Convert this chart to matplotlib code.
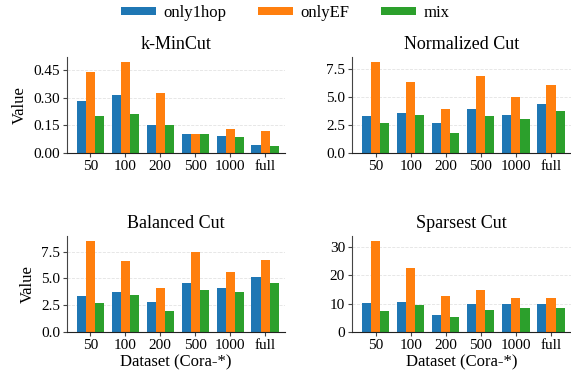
import numpy as np
import matplotlib.pyplot as plt

plt.rcParams['font.family'] = ['Liberation Serif', 'DejaVu Serif']

datasets = ["50", "100", "200", "500", "1000", "full"]
methods = ["only1hop", "onlyEF", "mix"]
colors = ["#1f77b4", "#ff7f0e", "#2ca02c"]

# metric values per method, one entry per dataset
kmincut_1hop = [0.282, 0.312, 0.152, 0.104, 0.093, 0.045]
kmincut_ef = [0.436, 0.495, 0.325, 0.104, 0.130, 0.120]
kmincut_mix = [0.200, 0.211, 0.152, 0.104, 0.084, 0.039]

ncut_1hop = [3.32, 3.59, 2.67, 3.94, 3.41, 4.39]
ncut_ef = [8.21, 6.34, 3.94, 6.88, 5.01, 6.08]
ncut_mix = [2.67, 3.41, 1.81, 3.32, 3.05, 3.79]

bcut_1hop = [3.35, 3.72, 2.80, 4.55, 4.09, 5.10]
bcut_ef = [8.52, 6.58, 4.09, 7.50, 5.56, 6.67]
bcut_mix = [2.71, 3.44, 1.97, 3.90, 3.72, 4.55]

scut_1hop = [10.3, 10.6, 6.1, 9.9, 9.9, 9.9]
scut_ef = [32.3, 22.5, 12.7, 14.8, 12.0, 12.0]
scut_mix = [7.5, 9.6, 5.4, 7.8, 8.5, 8.5]

panels = [
    ("k-MinCut", [kmincut_1hop, kmincut_ef, kmincut_mix], [0, 0.15, 0.30, 0.45], "{:.2f}"),
    ("Normalized Cut", [ncut_1hop, ncut_ef, ncut_mix], [0, 2.5, 5.0, 7.5], "{:.1f}"),
    ("Balanced Cut", [bcut_1hop, bcut_ef, bcut_mix], [0, 2.5, 5.0, 7.5], "{:.1f}"),
    ("Sparsest Cut", [scut_1hop, scut_ef, scut_mix], [0, 10, 20, 30], "{:.0f}"),
]

fig = plt.figure(figsize=(5.71, 3.81), dpi=100)
W, H = 571, 381
# axes boxes in pixels: left, top, right, bottom
boxes = [(67, 57, 285, 153), (352, 57, 571, 153),
         (67, 236, 285, 332), (352, 236, 571, 332)]

x = np.arange(len(datasets))
width = 0.26

for i, (title, series, ticks, fmt) in enumerate(panels):
    l, t, r, b = boxes[i]
    ax = fig.add_axes([l / W, 1 - b / H, (r - l) / W, (b - t) / H])
    for j, vals in enumerate(series):
        ax.bar(x + (j - 1) * width, vals, width, color=colors[j], label=methods[j], zorder=2)
    ax.set_xlim(-0.67, 5.57)
    top = max(max(s) for s in series)
    ax.set_ylim(0, top * 1.05)
    ax.set_yticks(ticks)
    ax.set_yticklabels([fmt.format(v) for v in ticks])
    ax.set_xticks(x)
    ax.set_xticklabels(datasets)
    ax.set_title(title, fontsize=13, pad=6)
    ax.grid(axis='y', linestyle='--', color='#e3e3e3', linewidth=0.6, zorder=0)
    ax.spines['top'].set_visible(False)
    ax.spines['right'].set_visible(False)
    ax.spines['left'].set_color('#444444')
    ax.spines['bottom'].set_color('#222222')
    ax.tick_params(labelsize=11, length=3, width=0.8, color='#444444', pad=2)
    if i % 2 == 0:
        ax.set_ylabel("Value", fontsize=12)
    if i >= 2:
        ax.set_xlabel("Dataset (Cora-*)", fontsize=12, labelpad=2)
    if i == 0:
        handles, labels = ax.get_legend_handles_labels()

fig.legend(handles, labels, loc='center', bbox_to_anchor=(0.5, 1 - 13 / H), ncol=3,
           frameon=False, fontsize=12, handlelength=2.1, handleheight=0.3,
           columnspacing=1.9, handletextpad=0.45, borderpad=0)

fig.savefig("out.png", dpi=100)
